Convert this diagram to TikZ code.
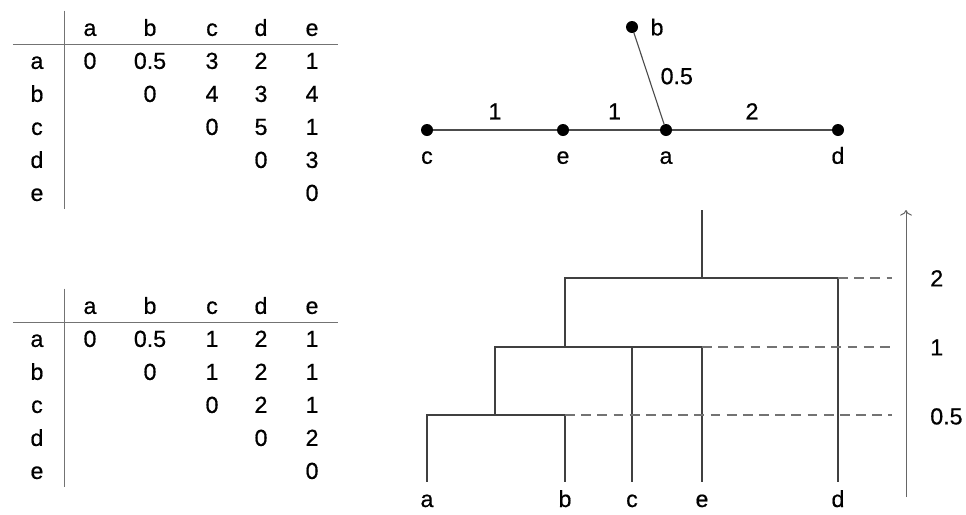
\documentclass[tikz,border=0pt]{standalone}
\usepackage{fontspec}
\setmainfont[FakeBold=0.6]{Liberation Sans}
\usetikzlibrary{matrix, arrows.meta, positioning, calc}

\begin{document}
\begin{tikzpicture}[
    x=0.025cm, y=-0.025cm,
    font=\fontsize{16.5}{19}\selectfont,
    dist/.style={matrix of nodes, nodes in empty cells, anchor=north west,
        row sep=0pt, column sep=0pt,
        nodes={inner sep=0pt, minimum height=0.825cm, text height=0.42cm, text depth=0pt},
        column 1/.style={nodes={minimum width=1.35cm}},
        column 2/.style={nodes={minimum width=1.3cm}},
        column 3/.style={nodes={minimum width=1.7cm}},
        column 4/.style={nodes={minimum width=1.4cm}},
        column 5/.style={nodes={minimum width=1.05cm}},
        column 6/.style={nodes={minimum width=1.5cm}}},
    rule/.style={draw=black!55, line width=0.9pt},
    dot/.style={circle, fill=black, inner sep=0pt, minimum size=0.3cm},
    lbl/.style={text height=0.42cm, text depth=0pt, inner sep=0pt},
    edge/.style={draw=black!70, line width=0.8pt},
    branch/.style={draw=black!75, line width=0.8pt},
    level/.style={draw=black!55, line width=0.8pt, dash pattern=on 7pt off 4.5pt},
    leaf/.style={anchor=base, text height=0.42cm, text depth=0pt, inner xsep=0pt, inner ysep=0.2cm},
    axis/.style={draw=black!60, line width=0.7pt, -{To[length=4pt]}}
]
    \useasboundingbox (0,0) rectangle (966,514);

    % Distance tables
    \matrix (dA) [dist] at (5,6) {
          & a & b   & c & d & e \\
        a & 0 & 0.5 & 3 & 2 & 1 \\
        b &   & 0   & 4 & 3 & 4 \\
        c &   &     & 0 & 5 & 1 \\
        d &   &     &   & 0 & 3 \\
        e &   &     &   &   & 0 \\
    };
    \draw[rule] (dA-1-1.north east) -- (dA-6-1.south east);
    \draw[rule] ([xshift=0.08cm]dA-1-1.south west) -- ([xshift=-0.1cm]dA-1-6.south east);

    \matrix (dB) [dist] at (5,284) {
          & a & b   & c & d & e \\
        a & 0 & 0.5 & 1 & 2 & 1 \\
        b &   & 0   & 1 & 2 & 1 \\
        c &   &     & 0 & 2 & 1 \\
        d &   &     &   & 0 & 2 \\
        e &   &     &   &   & 0 \\
    };
    \draw[rule] (dB-1-1.north east) -- (dB-6-1.south east);
    \draw[rule] ([xshift=0.08cm]dB-1-1.south west) -- ([xshift=-0.1cm]dB-1-6.south east);

    % Tree
    \node (c) [dot, label={[lbl, label distance=0.26cm]below:c}] at (427,130) {};
    \node (e) [dot, label={[lbl, label distance=0.26cm]below:e}] at (563,130) {};
    \node (a) [dot, label={[lbl, label distance=0.26cm]below:a}] at (666,130) {};
    \node (d) [dot, label={[lbl, label distance=0.26cm]below:d}] at (838,130) {};
    \node (b) [dot, label={[lbl, label distance=0.3cm]right:b}] at (632,27) {};

    \draw[edge] (c) -- node[lbl, above=0.25cm] {1} (e);
    \draw[edge] (e) -- node[lbl, above=0.25cm] {1} (a);
    \draw[edge] (a) -- node[lbl, above=0.25cm] {2} (d);
    \draw[edge] (b) -- node[lbl, pos=0.47, right=0.3cm] {0.5} (a);

    % Dendrogram
    \node (la) [leaf] at (427,507) {a};
    \node (lb) [leaf] at (565,507) {b};
    \node (lc) [leaf] at (632,507) {c};
    \node (le) [leaf] at (702,507) {e};
    \node (ld) [leaf] at (838,507) {d};

    \coordinate (m1) at (495,415);
    \coordinate (m2) at (565,347);
    \coordinate (m3) at (702,278);
    \coordinate (top) at (702,210);

    \draw[branch] (la.north) |- (lb.north |- m1) -- (lb.north);
    \draw[branch] (m1) |- (le.north |- m2) -- (le.north);
    \draw[branch] (lc.north) -- (lc.north |- m2);
    \draw[branch] (m2) |- (ld.north |- m3) -- (ld.north);
    \draw[branch] (m3) -- (top);

    % Scale
    \coordinate (ax0) at (906,497);
    \coordinate (ax1) at (906,210);
    \draw[axis] (ax0) -- (ax1);

    \node (s05) [lbl, anchor=west] at (930,416) {0.5};
    \node (s1) [lbl, anchor=west] at (930,347) {1};
    \node (s2) [lbl, anchor=west] at (930,278) {2};

    \draw[level] (lb.north |- m1) -- ($(ax0 |- m1) + (-14,0)$);
    \draw[level] (le.north |- m2) -- ($(ax0 |- m2) + (-14,0)$);
    \draw[level] (ld.north |- m3) -- ($(ax0 |- m3) + (-14,0)$);
\end{tikzpicture}
\end{document}
